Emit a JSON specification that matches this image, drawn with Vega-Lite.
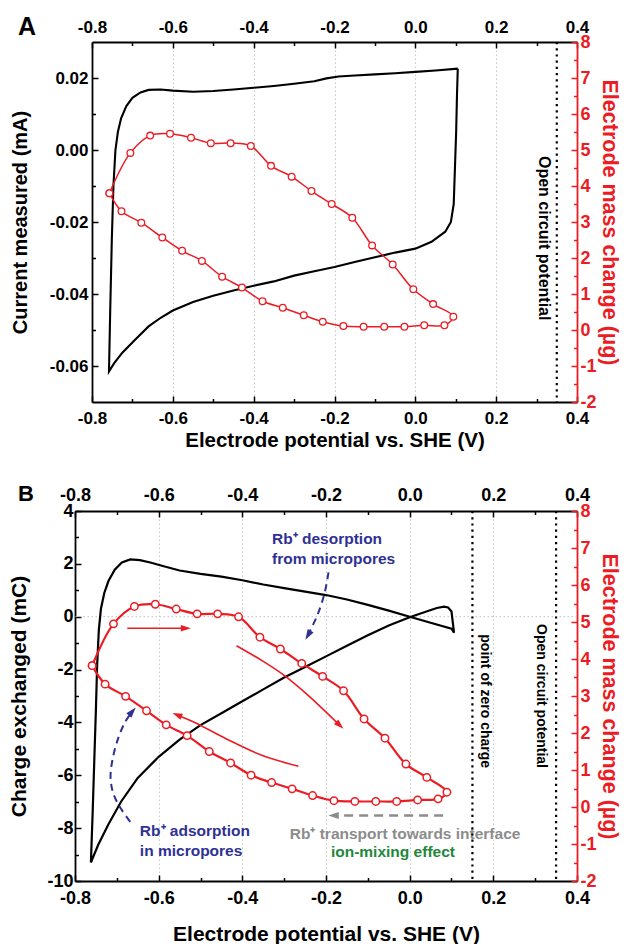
{
  "$schema": "https://vega.github.io/schema/vega-lite/v6.json",
  "background": "white",
  "padding": {"left": 8, "top": 15, "right": 0, "bottom": 0},
  "spacing": 32,
  "config": {
    "font": "Liberation Sans",
    "view": {"stroke": null},
    "text": {"font": "Liberation Sans"},
    "axis": {
      "labelFont": "Liberation Sans", "titleFont": "Liberation Sans",
      "labelFontWeight": "bold", "titleFontWeight": "bold",
      "labelColor": "black", "titleColor": "black",
      "tickColor": "black", "domainColor": "black",
      "labelFlush": false, "labelOverlap": false,
      "tickWidth": 1.5, "domainWidth": 1.8, "grid": false
    }
  },
  "datasets": {
    "cvA": [
      {"k": 1, "v": 0.105, "i": 0.0226}, {"k": 2, "v": 0.05, "i": 0.0221}, {"k": 3, "v": 0.0, "i": 0.0217},
      {"k": 4, "v": -0.05, "i": 0.0213}, {"k": 5, "v": -0.1, "i": 0.021}, {"k": 6, "v": -0.15, "i": 0.0207},
      {"k": 7, "v": -0.19, "i": 0.0204}, {"k": 8, "v": -0.22, "i": 0.0199}, {"k": 9, "v": -0.25, "i": 0.0191},
      {"k": 10, "v": -0.3, "i": 0.0184}, {"k": 11, "v": -0.35, "i": 0.0178}, {"k": 12, "v": -0.4, "i": 0.0173},
      {"k": 13, "v": -0.45, "i": 0.0168}, {"k": 14, "v": -0.5, "i": 0.0164}, {"k": 15, "v": -0.55, "i": 0.0162},
      {"k": 16, "v": -0.6, "i": 0.0165}, {"k": 17, "v": -0.63, "i": 0.0168}, {"k": 18, "v": -0.66, "i": 0.0167},
      {"k": 19, "v": -0.68, "i": 0.016}, {"k": 20, "v": -0.7, "i": 0.0145}, {"k": 21, "v": -0.715, "i": 0.0122},
      {"k": 22, "v": -0.728, "i": 0.0088}, {"k": 23, "v": -0.736, "i": 0.005}, {"k": 24, "v": -0.742, "i": 0.0},
      {"k": 25, "v": -0.747, "i": -0.01}, {"k": 26, "v": -0.751, "i": -0.025}, {"k": 27, "v": -0.755, "i": -0.045},
      {"k": 28, "v": -0.758, "i": -0.0615}, {"k": 29, "v": -0.745, "i": -0.0592}, {"k": 30, "v": -0.725, "i": -0.0563},
      {"k": 31, "v": -0.694, "i": -0.0528}, {"k": 32, "v": -0.66, "i": -0.049}, {"k": 33, "v": -0.63, "i": -0.0466},
      {"k": 34, "v": -0.6, "i": -0.0446}, {"k": 35, "v": -0.55, "i": -0.0422}, {"k": 36, "v": -0.5, "i": -0.0405},
      {"k": 37, "v": -0.45, "i": -0.039}, {"k": 38, "v": -0.4, "i": -0.0377}, {"k": 39, "v": -0.35, "i": -0.0365},
      {"k": 40, "v": -0.3, "i": -0.0349}, {"k": 41, "v": -0.25, "i": -0.0337}, {"k": 42, "v": -0.2, "i": -0.0325},
      {"k": 43, "v": -0.15, "i": -0.0311}, {"k": 44, "v": -0.1, "i": -0.0298}, {"k": 45, "v": -0.05, "i": -0.0285},
      {"k": 46, "v": 0.0, "i": -0.0274}, {"k": 47, "v": 0.04, "i": -0.0255}, {"k": 48, "v": 0.074, "i": -0.0227},
      {"k": 49, "v": 0.088, "i": -0.02}, {"k": 50, "v": 0.095, "i": -0.015}, {"k": 51, "v": 0.098, "i": -0.005},
      {"k": 52, "v": 0.101, "i": 0.005}, {"k": 53, "v": 0.103, "i": 0.015}, {"k": 54, "v": 0.105, "i": 0.0226}
    ],
    "massA": [
      {"k": 1, "v": -0.757, "m": 3.8}, {"k": 2, "v": -0.705, "m": 4.92}, {"k": 3, "v": -0.656, "m": 5.4},
      {"k": 4, "v": -0.607, "m": 5.45}, {"k": 5, "v": -0.555, "m": 5.34}, {"k": 6, "v": -0.506, "m": 5.19},
      {"k": 7, "v": -0.457, "m": 5.19}, {"k": 8, "v": -0.407, "m": 5.11}, {"k": 9, "v": -0.357, "m": 4.56},
      {"k": 10, "v": -0.306, "m": 4.26}, {"k": 11, "v": -0.257, "m": 3.86}, {"k": 12, "v": -0.207, "m": 3.5},
      {"k": 13, "v": -0.156, "m": 3.12}, {"k": 14, "v": -0.107, "m": 2.35}, {"k": 15, "v": -0.056, "m": 1.82},
      {"k": 16, "v": -0.005, "m": 1.13}, {"k": 17, "v": 0.044, "m": 0.72}, {"k": 18, "v": 0.094, "m": 0.37},
      {"k": 19, "v": 0.072, "m": 0.13}, {"k": 20, "v": 0.022, "m": 0.13}, {"k": 21, "v": -0.027, "m": 0.09},
      {"k": 22, "v": -0.077, "m": 0.09}, {"k": 23, "v": -0.128, "m": 0.09}, {"k": 24, "v": -0.178, "m": 0.11},
      {"k": 25, "v": -0.229, "m": 0.23}, {"k": 26, "v": -0.276, "m": 0.41}, {"k": 27, "v": -0.328, "m": 0.62},
      {"k": 28, "v": -0.378, "m": 0.8}, {"k": 29, "v": -0.429, "m": 1.18}, {"k": 30, "v": -0.478, "m": 1.48},
      {"k": 31, "v": -0.528, "m": 1.92}, {"k": 32, "v": -0.577, "m": 2.2}, {"k": 33, "v": -0.626, "m": 2.57},
      {"k": 34, "v": -0.678, "m": 2.98}, {"k": 35, "v": -0.727, "m": 3.3}, {"k": 36, "v": -0.757, "m": 3.8}
    ],
    "chargeB": [
      {"k": 1, "v": -0.762, "q": -9.3}, {"k": 2, "v": -0.758, "q": -7.5}, {"k": 3, "v": -0.754, "q": -5.5},
      {"k": 4, "v": -0.75, "q": -3.5}, {"k": 5, "v": -0.747, "q": -1.8}, {"k": 6, "v": -0.743, "q": -0.5},
      {"k": 7, "v": -0.738, "q": 0.3}, {"k": 8, "v": -0.73, "q": 0.9}, {"k": 9, "v": -0.72, "q": 1.35},
      {"k": 10, "v": -0.705, "q": 1.78}, {"k": 11, "v": -0.688, "q": 2.05}, {"k": 12, "v": -0.668, "q": 2.17},
      {"k": 13, "v": -0.645, "q": 2.14}, {"k": 14, "v": -0.62, "q": 2.05}, {"k": 15, "v": -0.59, "q": 1.92},
      {"k": 16, "v": -0.55, "q": 1.75}, {"k": 17, "v": -0.5, "q": 1.62}, {"k": 18, "v": -0.45, "q": 1.52},
      {"k": 19, "v": -0.4, "q": 1.38}, {"k": 20, "v": -0.35, "q": 1.22}, {"k": 21, "v": -0.3, "q": 1.08},
      {"k": 22, "v": -0.25, "q": 0.95}, {"k": 23, "v": -0.2, "q": 0.82}, {"k": 24, "v": -0.15, "q": 0.65},
      {"k": 25, "v": -0.1, "q": 0.45}, {"k": 26, "v": -0.05, "q": 0.23}, {"k": 27, "v": 0.0, "q": 0.0},
      {"k": 28, "v": 0.05, "q": -0.23}, {"k": 29, "v": 0.1, "q": -0.45}, {"k": 30, "v": 0.106, "q": -0.6},
      {"k": 31, "v": 0.1, "q": 0.2}, {"k": 32, "v": 0.092, "q": 0.35}, {"k": 33, "v": 0.082, "q": 0.38},
      {"k": 34, "v": 0.065, "q": 0.33}, {"k": 35, "v": 0.04, "q": 0.2}, {"k": 36, "v": 0.0, "q": -0.02},
      {"k": 37, "v": -0.05, "q": -0.33}, {"k": 38, "v": -0.1, "q": -0.7}, {"k": 39, "v": -0.15, "q": -1.1},
      {"k": 40, "v": -0.2, "q": -1.5}, {"k": 41, "v": -0.25, "q": -1.9}, {"k": 42, "v": -0.3, "q": -2.3},
      {"k": 43, "v": -0.35, "q": -2.75}, {"k": 44, "v": -0.4, "q": -3.2}, {"k": 45, "v": -0.45, "q": -3.65},
      {"k": 46, "v": -0.5, "q": -4.1}, {"k": 47, "v": -0.55, "q": -4.65}, {"k": 48, "v": -0.6, "q": -5.3},
      {"k": 49, "v": -0.65, "q": -6.1}, {"k": 50, "v": -0.69, "q": -7.0}, {"k": 51, "v": -0.72, "q": -7.85},
      {"k": 52, "v": -0.745, "q": -8.65}, {"k": 53, "v": -0.762, "q": -9.3}
    ],
    "massB": [
      {"k": 1, "v": -0.759, "m": 3.82}, {"k": 2, "v": -0.708, "m": 4.95}, {"k": 3, "v": -0.658, "m": 5.42},
      {"k": 4, "v": -0.608, "m": 5.48}, {"k": 5, "v": -0.558, "m": 5.35}, {"k": 6, "v": -0.508, "m": 5.22},
      {"k": 7, "v": -0.459, "m": 5.22}, {"k": 8, "v": -0.409, "m": 5.14}, {"k": 9, "v": -0.358, "m": 4.59},
      {"k": 10, "v": -0.309, "m": 4.27}, {"k": 11, "v": -0.258, "m": 3.88}, {"k": 12, "v": -0.208, "m": 3.53},
      {"k": 13, "v": -0.158, "m": 3.14}, {"k": 14, "v": -0.109, "m": 2.38}, {"k": 15, "v": -0.059, "m": 1.86},
      {"k": 16, "v": -0.009, "m": 1.16}, {"k": 17, "v": 0.041, "m": 0.8}, {"k": 18, "v": 0.089, "m": 0.4},
      {"k": 19, "v": 0.068, "m": 0.22}, {"k": 20, "v": 0.019, "m": 0.19}, {"k": 21, "v": -0.031, "m": 0.15},
      {"k": 22, "v": -0.081, "m": 0.15}, {"k": 23, "v": -0.131, "m": 0.15}, {"k": 24, "v": -0.181, "m": 0.17},
      {"k": 25, "v": -0.232, "m": 0.31}, {"k": 26, "v": -0.281, "m": 0.49}, {"k": 27, "v": -0.33, "m": 0.66},
      {"k": 28, "v": -0.379, "m": 0.86}, {"k": 29, "v": -0.428, "m": 1.19}, {"k": 30, "v": -0.479, "m": 1.5},
      {"k": 31, "v": -0.532, "m": 1.93}, {"k": 32, "v": -0.582, "m": 2.22}, {"k": 33, "v": -0.629, "m": 2.6},
      {"k": 34, "v": -0.679, "m": 2.99}, {"k": 35, "v": -0.728, "m": 3.32}, {"k": 36, "v": -0.759, "m": 3.82}
    ],
    "redArrowsB": [
      {"id": "a", "k": 1, "v": -0.675, "m": 4.83}, {"id": "a", "k": 2, "v": -0.54, "m": 4.83},
      {"id": "b", "k": 1, "v": -0.414, "m": 4.36}, {"id": "b", "k": 2, "v": -0.352, "m": 3.95},
      {"id": "b", "k": 3, "v": -0.304, "m": 3.59}, {"id": "b", "k": 4, "v": -0.246, "m": 3.05},
      {"id": "b", "k": 5, "v": -0.172, "m": 2.26},
      {"id": "c", "k": 1, "v": -0.266, "m": 1.1}, {"id": "c", "k": 2, "v": -0.352, "m": 1.39},
      {"id": "c", "k": 3, "v": -0.438, "m": 1.84}, {"id": "c", "k": 4, "v": -0.515, "m": 2.29},
      {"id": "c", "k": 5, "v": -0.55, "m": 2.46}
    ],
    "blueArrowsB": [
      {"id": "d", "k": 1, "v": -0.194, "m": 6.34}, {"id": "d", "k": 2, "v": -0.203, "m": 5.8},
      {"id": "d", "k": 3, "v": -0.218, "m": 5.26}, {"id": "d", "k": 4, "v": -0.232, "m": 4.9},
      {"id": "d", "k": 5, "v": -0.24, "m": 4.72},
      {"id": "e", "k": 1, "v": -0.668, "m": -0.4}, {"id": "e", "k": 2, "v": -0.69, "m": -0.05},
      {"id": "e", "k": 3, "v": -0.708, "m": 0.35}, {"id": "e", "k": 4, "v": -0.715, "m": 0.8},
      {"id": "e", "k": 5, "v": -0.71, "m": 1.3}, {"id": "e", "k": 6, "v": -0.697, "m": 1.85},
      {"id": "e", "k": 7, "v": -0.68, "m": 2.3}, {"id": "e", "k": 8, "v": -0.668, "m": 2.5}
    ],
    "grayArrowB": [
      {"k": 1, "v": 0.08, "m": -0.23}, {"k": 2, "v": -0.175, "m": -0.23}
    ]
  },
  "vconcat": [
    {
      "width": 502,
      "height": 360,
      "resolve": {"scale": {"y": "independent"}, "axis": {"x": "independent", "y": "independent"}},
      "layer": [
        {
          "data": {"name": "cvA"},
          "mark": {"type": "line", "color": "black", "strokeWidth": 2.1},
          "encoding": {
            "x": {
              "field": "v", "type": "quantitative",
              "scale": {"domain": [-0.8, 0.4], "nice": false, "zero": false, "rangeMin": 17},
              "axis": {
                "orient": "bottom", "values": [-0.8, -0.6, -0.4, -0.2, 0, 0.2, 0.4],
                "labelExpr": "replace(format(datum.value, '.1f'), '\u2212', '-')",
                "tickSize": -6, "labelPadding": 14, "labelFontSize": 17,
                "grid": true, "gridColor": "#c8c8c8", "gridDash": [1.5, 2.5], "gridWidth": 1,
                "title": "Electrode potential vs. SHE (V)", "titleFontSize": 20.5, "titlePadding": 4
              }
            },
            "y": {
              "field": "i", "type": "quantitative",
              "scale": {"domain": [-0.07, 0.03], "nice": false, "zero": false},
              "axis": {
                "orient": "left", "offset": -17, "values": [-0.06, -0.04, -0.02, 0, 0.02],
                "labelExpr": "replace(format(datum.value, '.2f'), '\u2212', '-')",
                "tickSize": -6, "labelPadding": 10, "labelFontSize": 17,
                "title": "Current measured (mA)", "titleFontSize": 20, "titlePadding": 19
              }
            },
            "order": {"field": "k", "type": "quantitative"}
          }
        },
        {
          "data": {"name": "massA"},
          "encoding": {
            "x": {
              "field": "v", "type": "quantitative",
              "scale": {"domain": [-0.8, 0.4], "nice": false, "zero": false, "rangeMin": 17},
              "axis": {
                "orient": "top", "values": [-0.8, -0.6, -0.4, -0.2, 0, 0.2, 0.4],
                "labelExpr": "replace(format(datum.value, '.1f'), '\u2212', '-')",
                "tickSize": -6, "labelPadding": 12, "labelFontSize": 17, "title": null
              }
            },
            "y": {
              "field": "m", "type": "quantitative",
              "scale": {"domain": [-2, 8], "nice": false, "zero": false},
              "axis": {
                "orient": "right", "values": [-2, -1, 0, 1, 2, 3, 4, 5, 6, 7, 8],
                "labelExpr": "replace(format(datum.value, 'd'), '\u2212', '-')",
                "tickSize": -6, "labelPadding": 9, "labelFontSize": 18,
                "labelColor": "#ec1c24", "tickColor": "#ec1c24", "domainColor": "#ec1c24",
                "title": "Electrode mass change (µg)", "titleColor": "#ec1c24",
                "titleFontSize": 21.5, "titlePadding": 1
              }
            },
            "order": {"field": "k", "type": "quantitative"}
          },
          "layer": [
            {"mark": {"type": "line", "color": "#ec1c24", "strokeWidth": 1.5, "interpolate": "catmull-rom"}},
            {"mark": {"type": "point", "shape": "circle", "filled": true, "fill": "white", "stroke": "#ec1c24", "strokeWidth": 1.3, "size": 45, "opacity": 1}}
          ]
        },
        {
          "data": {"values": [{"v": 0.35}]},
          "mark": {"type": "rule", "color": "black", "strokeWidth": 2.2, "strokeDash": [2.2, 4]},
          "encoding": {
            "x": {
              "field": "v", "type": "quantitative",
              "scale": {"domain": [-0.8, 0.4], "nice": false, "zero": false, "rangeMin": 17},
              "axis": {"orient": "bottom", "values": [-0.7, -0.5, -0.3, -0.1, 0.1, 0.3], "labels": false, "domain": false, "tickSize": -3.5, "title": null}
            }
          }
        },
        {
          "data": {"values": [{"v": 0.318, "m": 2.55, "t": "Open circuit potential"}]},
          "mark": {"type": "text", "angle": 90, "fontSize": 16, "fontWeight": "bold", "color": "black", "align": "center", "baseline": "middle"},
          "encoding": {
            "x": {
              "field": "v", "type": "quantitative",
              "scale": {"domain": [-0.8, 0.4], "nice": false, "zero": false, "rangeMin": 17},
              "axis": {"orient": "top", "values": [-0.7, -0.5, -0.3, -0.1, 0.1, 0.3], "labels": false, "domain": false, "tickSize": -3.5, "title": null}
            },
            "y": {
              "field": "m", "type": "quantitative",
              "scale": {"domain": [-2, 8], "nice": false, "zero": false},
              "axis": {"orient": "right", "values": [-1.5, -0.5, 0.5, 1.5, 2.5, 3.5, 4.5, 5.5, 6.5, 7.5], "labels": false, "domain": false, "tickSize": -3.5, "tickColor": "#ec1c24", "title": null}
            },
            "text": {"field": "t"}
          }
        },
        {
          "data": {"values": [{"v": -0.8, "i": 0.03, "t": "A"}]},
          "mark": {"type": "text", "fontSize": 25, "fontWeight": "bold", "color": "black", "align": "center", "baseline": "middle", "dx": -65, "dy": -15},
          "encoding": {
            "x": {"field": "v", "type": "quantitative", "scale": {"domain": [-0.8, 0.4], "nice": false, "zero": false, "rangeMin": 17}, "axis": null},
            "y": {
              "field": "i", "type": "quantitative",
              "scale": {"domain": [-0.07, 0.03], "nice": false, "zero": false},
              "axis": {"orient": "left", "offset": -17, "values": [-0.05, -0.03, -0.01, 0.01], "labels": false, "domain": false, "tickSize": -3.5, "title": null}
            },
            "text": {"field": "t"}
          }
        }
      ]
    },
    {
      "width": 502,
      "height": 370,
      "resolve": {"scale": {"y": "independent"}, "axis": {"x": "independent", "y": "independent"}},
      "layer": [
        {
          "data": {"values": [{"q": 0}]},
          "mark": {"type": "rule", "color": "#bdbdbd", "strokeWidth": 1, "strokeDash": [1.5, 2.5]},
          "encoding": {
            "y": {"field": "q", "type": "quantitative", "scale": {"domain": [-10, 4], "nice": false, "zero": false}, "axis": null}
          }
        },
        {
          "data": {"name": "chargeB"},
          "mark": {"type": "line", "color": "black", "strokeWidth": 2.2},
          "encoding": {
            "x": {
              "field": "v", "type": "quantitative",
              "scale": {"domain": [-0.8, 0.4], "nice": false, "zero": false},
              "axis": {
                "orient": "bottom", "values": [-0.8, -0.6, -0.4, -0.2, 0, 0.2, 0.4],
                "labelExpr": "replace(format(datum.value, '.1f'), '\u2212', '-')",
                "tickSize": -6, "labelPadding": 14, "labelFontSize": 18,
                "grid": true, "gridColor": "#c8c8c8", "gridDash": [1.5, 2.5], "gridWidth": 1,
                "title": "Electrode potential vs. SHE (V)", "titleFontSize": 21, "titlePadding": 16
              }
            },
            "y": {
              "field": "q", "type": "quantitative",
              "scale": {"domain": [-10, 4], "nice": false, "zero": false},
              "axis": {
                "orient": "left", "values": [-10, -8, -6, -4, -2, 0, 2, 4],
                "labelExpr": "replace(format(datum.value, 'd'), '\u2212', '-')",
                "tickSize": -6, "labelPadding": 8, "labelFontSize": 18,
                "title": "Charge exchanged (mC)", "titleFontSize": 21, "titlePadding": 17
              }
            },
            "order": {"field": "k", "type": "quantitative"}
          }
        },
        {
          "data": {"name": "massB"},
          "encoding": {
            "x": {
              "field": "v", "type": "quantitative",
              "scale": {"domain": [-0.8, 0.4], "nice": false, "zero": false},
              "axis": {
                "orient": "top", "values": [-0.8, -0.6, -0.4, -0.2, 0, 0.2, 0.4],
                "labelExpr": "replace(format(datum.value, '.1f'), '\u2212', '-')",
                "tickSize": -6, "labelPadding": 13, "labelFontSize": 18, "title": null
              }
            },
            "y": {
              "field": "m", "type": "quantitative",
              "scale": {"domain": [-2, 8], "nice": false, "zero": false},
              "axis": {
                "orient": "right", "values": [-2, -1, 0, 1, 2, 3, 4, 5, 6, 7, 8],
                "labelExpr": "replace(format(datum.value, 'd'), '\u2212', '-')",
                "tickSize": -6, "labelPadding": 9, "labelFontSize": 18,
                "labelColor": "#ec1c24", "tickColor": "#ec1c24", "domainColor": "#ec1c24",
                "title": "Electrode mass change (µg)", "titleColor": "#ec1c24",
                "titleFontSize": 21.5, "titlePadding": 1
              }
            },
            "order": {"field": "k", "type": "quantitative"}
          },
          "layer": [
            {"mark": {"type": "line", "color": "#ec1c24", "strokeWidth": 2.2, "interpolate": "catmull-rom"}},
            {"mark": {"type": "point", "shape": "circle", "filled": true, "fill": "white", "stroke": "#ec1c24", "strokeWidth": 1.5, "size": 55, "opacity": 1}}
          ]
        },
        {
          "data": {"name": "redArrowsB"},
          "mark": {"type": "line", "color": "#ec1c24", "strokeWidth": 1.6, "interpolate": "catmull-rom"},
          "encoding": {
            "x": {"field": "v", "type": "quantitative", "scale": {"domain": [-0.8, 0.4], "nice": false, "zero": false}, "axis": null},
            "y": {"field": "m", "type": "quantitative", "scale": {"domain": [-2, 8], "nice": false, "zero": false}, "axis": null},
            "detail": {"field": "id"},
            "order": {"field": "k", "type": "quantitative"}
          }
        },
        {
          "data": {"name": "blueArrowsB"},
          "mark": {"type": "line", "color": "#2e3192", "strokeWidth": 2, "strokeDash": [7, 5], "interpolate": "catmull-rom"},
          "encoding": {
            "x": {"field": "v", "type": "quantitative", "scale": {"domain": [-0.8, 0.4], "nice": false, "zero": false}, "axis": null},
            "y": {"field": "m", "type": "quantitative", "scale": {"domain": [-2, 8], "nice": false, "zero": false}, "axis": null},
            "detail": {"field": "id"},
            "order": {"field": "k", "type": "quantitative"}
          }
        },
        {
          "data": {"name": "grayArrowB"},
          "mark": {"type": "line", "color": "#8c8c8c", "strokeWidth": 2.5, "strokeDash": [9, 6]},
          "encoding": {
            "x": {"field": "v", "type": "quantitative", "scale": {"domain": [-0.8, 0.4], "nice": false, "zero": false}, "axis": null},
            "y": {"field": "m", "type": "quantitative", "scale": {"domain": [-2, 8], "nice": false, "zero": false}, "axis": null},
            "order": {"field": "k", "type": "quantitative"}
          }
        },
        {
          "data": {"values": [{"v": -0.535, "m": 4.83}]},
          "mark": {"type": "point", "shape": "M1,0L-1,-0.65L-1,0.65Z", "angle": 0, "filled": true, "color": "#ec1c24", "size": 100, "opacity": 1},
          "encoding": {
            "x": {"field": "v", "type": "quantitative", "scale": {"domain": [-0.8, 0.4], "nice": false, "zero": false}, "axis": null},
            "y": {"field": "m", "type": "quantitative", "scale": {"domain": [-2, 8], "nice": false, "zero": false}, "axis": null}
          }
        },
        {
          "data": {"values": [{"v": -0.167, "m": 2.21}]},
          "mark": {"type": "point", "shape": "M1,0L-1,-0.65L-1,0.65Z", "angle": 43, "filled": true, "color": "#ec1c24", "size": 100, "opacity": 1},
          "encoding": {
            "x": {"field": "v", "type": "quantitative", "scale": {"domain": [-0.8, 0.4], "nice": false, "zero": false}, "axis": null},
            "y": {"field": "m", "type": "quantitative", "scale": {"domain": [-2, 8], "nice": false, "zero": false}, "axis": null}
          }
        },
        {
          "data": {"values": [{"v": -0.556, "m": 2.49}]},
          "mark": {"type": "point", "shape": "M1,0L-1,-0.65L-1,0.65Z", "angle": 203, "filled": true, "color": "#ec1c24", "size": 100, "opacity": 1},
          "encoding": {
            "x": {"field": "v", "type": "quantitative", "scale": {"domain": [-0.8, 0.4], "nice": false, "zero": false}, "axis": null},
            "y": {"field": "m", "type": "quantitative", "scale": {"domain": [-2, 8], "nice": false, "zero": false}, "axis": null}
          }
        },
        {
          "data": {"values": [{"v": -0.243, "m": 4.64}]},
          "mark": {"type": "point", "shape": "M1,0L-1,-0.65L-1,0.65Z", "angle": 120, "filled": true, "color": "#2e3192", "size": 110, "opacity": 1},
          "encoding": {
            "x": {"field": "v", "type": "quantitative", "scale": {"domain": [-0.8, 0.4], "nice": false, "zero": false}, "axis": null},
            "y": {"field": "m", "type": "quantitative", "scale": {"domain": [-2, 8], "nice": false, "zero": false}, "axis": null}
          }
        },
        {
          "data": {"values": [{"v": -0.663, "m": 2.58}]},
          "mark": {"type": "point", "shape": "M1,0L-1,-0.65L-1,0.65Z", "angle": 311, "filled": true, "color": "#2e3192", "size": 110, "opacity": 1},
          "encoding": {
            "x": {"field": "v", "type": "quantitative", "scale": {"domain": [-0.8, 0.4], "nice": false, "zero": false}, "axis": null},
            "y": {"field": "m", "type": "quantitative", "scale": {"domain": [-2, 8], "nice": false, "zero": false}, "axis": null}
          }
        },
        {
          "data": {"values": [{"v": -0.182, "m": -0.23}]},
          "mark": {"type": "point", "shape": "M1,0L-1,-0.65L-1,0.65Z", "angle": 180, "filled": true, "color": "#8c8c8c", "size": 110, "opacity": 1},
          "encoding": {
            "x": {"field": "v", "type": "quantitative", "scale": {"domain": [-0.8, 0.4], "nice": false, "zero": false}, "axis": null},
            "y": {"field": "m", "type": "quantitative", "scale": {"domain": [-2, 8], "nice": false, "zero": false}, "axis": null}
          }
        },
        {
          "data": {"values": [
            {"v": -0.329, "m": 7.24, "t": "Rb⁺ desorption"},
            {"v": -0.329, "m": 6.7, "t": "from micropores"},
            {"v": -0.645, "m": -0.65, "t": "Rb⁺ adsorption"},
            {"v": -0.645, "m": -1.19, "t": "in micropores"}
          ]},
          "mark": {"type": "text", "fontSize": 15.5, "fontWeight": "bold", "color": "#2e3192", "align": "left", "baseline": "middle"},
          "encoding": {
            "x": {"field": "v", "type": "quantitative", "scale": {"domain": [-0.8, 0.4], "nice": false, "zero": false}, "axis": null},
            "y": {"field": "m", "type": "quantitative", "scale": {"domain": [-2, 8], "nice": false, "zero": false}, "axis": null},
            "text": {"field": "t"}
          }
        },
        {
          "data": {"values": [{"v": -0.011, "m": -0.73, "t": "Rb⁺ transport towards interface"}]},
          "mark": {"type": "text", "fontSize": 15.5, "fontWeight": "bold", "color": "#8c8c8c", "align": "center", "baseline": "middle"},
          "encoding": {
            "x": {"field": "v", "type": "quantitative", "scale": {"domain": [-0.8, 0.4], "nice": false, "zero": false}, "axis": null},
            "y": {"field": "m", "type": "quantitative", "scale": {"domain": [-2, 8], "nice": false, "zero": false}, "axis": null},
            "text": {"field": "t"}
          }
        },
        {
          "data": {"values": [{"v": -0.04, "m": -1.22, "t": "ion-mixing effect"}]},
          "mark": {"type": "text", "fontSize": 15.5, "fontWeight": "bold", "color": "#22873a", "align": "center", "baseline": "middle"},
          "encoding": {
            "x": {"field": "v", "type": "quantitative", "scale": {"domain": [-0.8, 0.4], "nice": false, "zero": false}, "axis": null},
            "y": {"field": "m", "type": "quantitative", "scale": {"domain": [-2, 8], "nice": false, "zero": false}, "axis": null},
            "text": {"field": "t"}
          }
        },
        {
          "data": {"values": [{"v": 0.15}, {"v": 0.35}]},
          "mark": {"type": "rule", "color": "black", "strokeWidth": 2.2, "strokeDash": [2.2, 4]},
          "encoding": {
            "x": {
              "field": "v", "type": "quantitative",
              "scale": {"domain": [-0.8, 0.4], "nice": false, "zero": false},
              "axis": {"orient": "bottom", "values": [-0.7, -0.5, -0.3, -0.1, 0.1, 0.3], "labels": false, "domain": false, "tickSize": -3.5, "title": null}
            }
          }
        },
        {
          "data": {"values": [
            {"v": 0.181, "m": 2.86, "t": "point of zero charge"},
            {"v": 0.315, "m": 3.0, "t": "Open circuit potential"}
          ]},
          "mark": {"type": "text", "angle": 90, "fontSize": 14, "fontWeight": "bold", "color": "black", "align": "center", "baseline": "middle"},
          "encoding": {
            "x": {
              "field": "v", "type": "quantitative",
              "scale": {"domain": [-0.8, 0.4], "nice": false, "zero": false},
              "axis": {"orient": "top", "values": [-0.7, -0.5, -0.3, -0.1, 0.1, 0.3], "labels": false, "domain": false, "tickSize": -3.5, "title": null}
            },
            "y": {
              "field": "m", "type": "quantitative",
              "scale": {"domain": [-2, 8], "nice": false, "zero": false},
              "axis": {"orient": "right", "values": [-1.5, -0.5, 0.5, 1.5, 2.5, 3.5, 4.5, 5.5, 6.5, 7.5], "labels": false, "domain": false, "tickSize": -3.5, "tickColor": "#ec1c24", "title": null}
            },
            "text": {"field": "t"}
          }
        },
        {
          "data": {"values": [{"v": -0.8, "q": 4, "t": "B"}]},
          "mark": {"type": "text", "fontSize": 22, "fontWeight": "bold", "color": "black", "align": "center", "baseline": "middle", "dx": -49, "dy": -17},
          "encoding": {
            "x": {"field": "v", "type": "quantitative", "scale": {"domain": [-0.8, 0.4], "nice": false, "zero": false}, "axis": null},
            "y": {
              "field": "q", "type": "quantitative",
              "scale": {"domain": [-10, 4], "nice": false, "zero": false},
              "axis": {"orient": "left", "values": [-9, -7, -5, -3, -1, 1, 3], "labels": false, "domain": false, "tickSize": -3.5, "title": null}
            },
            "text": {"field": "t"}
          }
        }
      ]
    }
  ]
}
